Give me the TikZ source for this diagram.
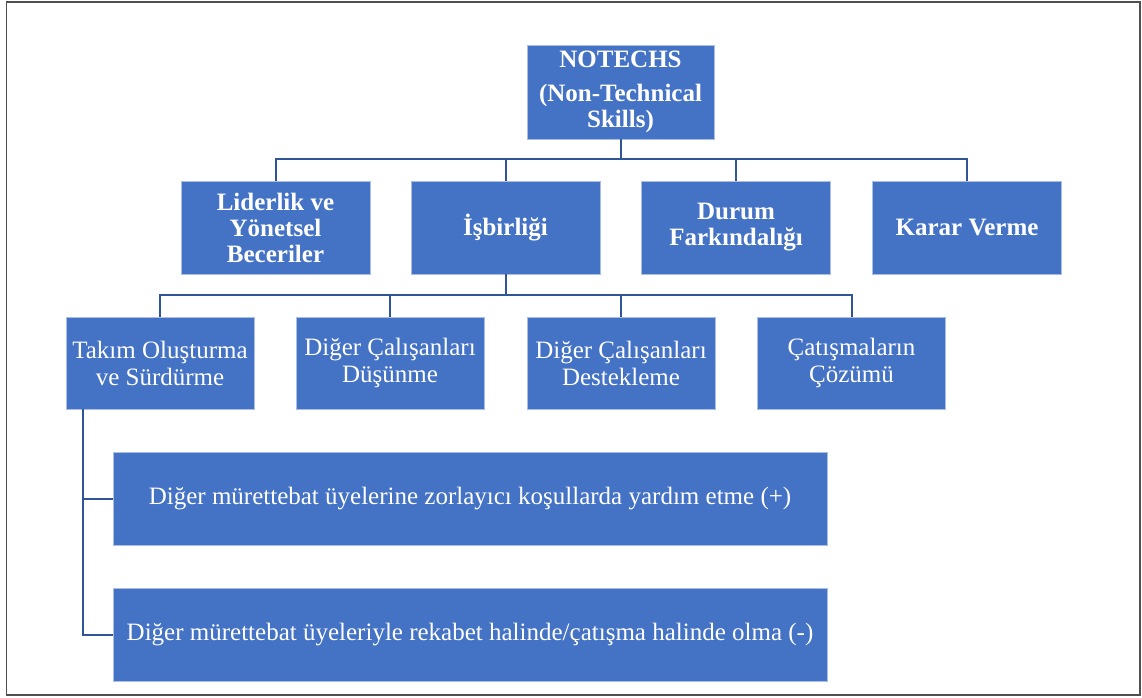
\documentclass[tikz,border=0pt]{standalone}
\usepackage{fontspec}
\setmainfont{Liberation Serif}
\definecolor{boxblue}{HTML}{4472C4}
\definecolor{boxedge}{HTML}{A9BDE6}
\definecolor{linkblue}{HTML}{2F5597}
\definecolor{framegray}{HTML}{505050}
\begin{document}
\begin{tikzpicture}[x=1pt,y=-1pt,
  box/.style={rectangle, fill=boxblue, draw=boxedge, line width=0.8pt,
    text=white, align=center, inner sep=0pt,
    font=\fontsize{25}{27}\selectfont},
  head/.style={box, font=\fontsize{25}{26}\selectfont\bfseries},
  topbox/.style={head, minimum width=189pt, minimum height=93pt},
  midbox/.style={box, minimum width=188pt, minimum height=92pt},
  wide/.style={box, minimum width=714pt, minimum height=93pt},
  conn/.style={draw=linkblue, line width=2pt}]
\useasboundingbox (0,0) rectangle (1142,697);
% outer frame
\draw[framegray, line width=1.5pt] (6.5,2) rectangle (1140,695);

% root
\node[head, minimum width=187pt, minimum height=94pt] (root) at (620.5,92)
  {NOTECHS\\[8pt](Non-Technical\\Skills)};

% first level
\node[topbox] (lid) at (275.5,227.5) {Liderlik ve\\Yönetsel\\Beceriler};
\node[topbox] (isb) at (505.5,227.5) {İşbirliği};
\node[topbox] (dur) at (736,227.5) {Durum\\Farkındalığı};
\node[topbox] (kar) at (967,227.5) {Karar Verme};

% second level
\node[midbox] (tak) at (160,363) {Takım Oluşturma\\ve Sürdürme};
\node[midbox] (dus) at (390,363) {Diğer Çalışanları\\Düşünme};
\node[midbox] (des) at (621,363) {Diğer Çalışanları\\Destekleme};
\node[midbox] (cat) at (851.5,363) {Çatışmaların\\Çözümü};

% behaviour markers
\node[wide] (s1) at (470,498.5) {Diğer mürettebat üyelerine zorlayıcı koşullarda yardım etme (+)};
\node[wide] (s2) at (470,634.5) {Diğer mürettebat üyeleriyle rekabet halinde/çatışma halinde olma (-)};

% root to first level
\draw[conn] (root.south) -- ++(0,20);
\draw[conn] (lid.north) -- ++(0,-22) -| (kar.north);
\draw[conn] (isb.north) -- ++(0,-22);
\draw[conn] (dur.north) -- ++(0,-22);

% cooperation to its elements
\draw[conn] (isb.south) -- ++(0,21);
\draw[conn] (tak.north) -- ++(0,-22) -| (cat.north);
\draw[conn] (dus.north) -- ++(0,-22);
\draw[conn] (des.north) -- ++(0,-22);

% team building to its markers
\coordinate (trunk) at ([xshift=17pt]tak.south west);
\draw[conn] (trunk) |- (s2.west);
\draw[conn] (s1.west) -- (s1.west -| trunk);
\end{tikzpicture}
\end{document}
